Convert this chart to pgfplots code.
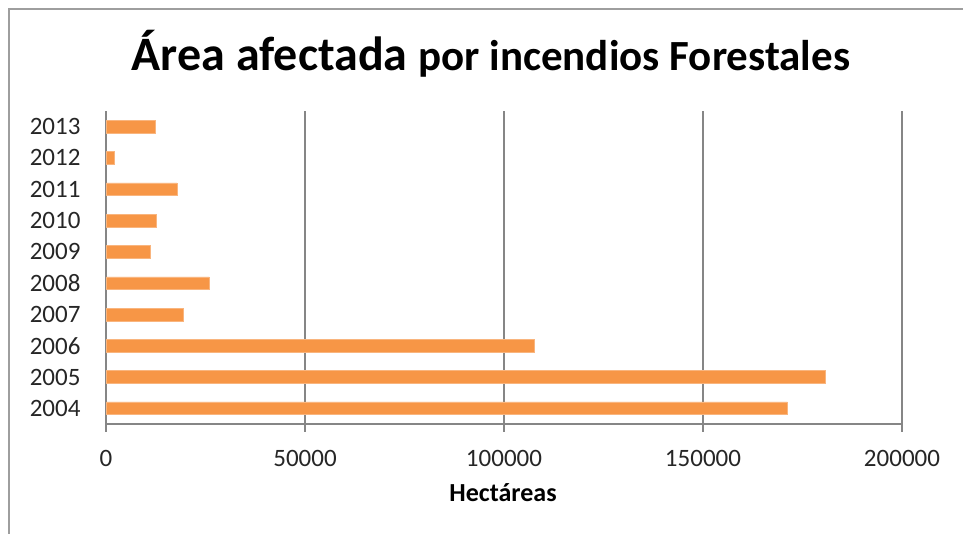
\documentclass[border=0pt]{standalone}
\usepackage{pgfplots}
\pgfplotsset{compat=1.18}
\usepackage{fontspec}
\setmainfont{Carlito}
\definecolor{barorange}{HTML}{F79646}
\definecolor{gridgray}{HTML}{868686}
\begin{document}
\begin{tikzpicture}
\useasboundingbox (0,0) rectangle (963bp,534bp);
\draw[gridgray!80, line width=1.5bp] (9bp,-5bp) -- (9bp,525bp) -- (975bp,525bp);
\node[anchor=base, font=\bfseries] at (491bp,463bp)
  {\fontsize{48bp}{53bp}\selectfont Área afectada \fontsize{43bp}{48bp}\selectfont por incendios Forestales};
\node[anchor=base, font=\bfseries] at (503bp,33bp) {\fontsize{26bp}{30bp}\selectfont Hectáreas};
\begin{axis}[
  at={(106bp,110bp)}, anchor=south west,
  scale only axis, width=796bp, height=313bp,
  xbar, bar width=12.7bp,
  xmin=0, xmax=200000, ymin=-0.5, ymax=9.5,
  axis x line*=bottom, axis y line*=left,
  axis line style={gridgray, line width=1.2bp},
  ytick={0,...,9},
  yticklabels={2004,2005,2006,2007,2008,2009,2010,2011,2012,2013},
  y tick style={draw=none},
  xtick={0,50000,100000,150000,200000},
  xticklabels={0,50000,100000,150000,200000},
  scaled x ticks=false,
  x tick style={gridgray, line width=1.2bp},
  tick align=outside, major tick length=8bp,
  tick label style={font=\fontsize{25bp}{28bp}\selectfont, text=black!85},
  xticklabel style={yshift=-15bp},
  yticklabel style={xshift=-14bp},
  xmajorgrids, grid style={gridgray, line width=1.2bp},
]
\addplot[fill=barorange, draw=barorange!70!white, line width=0.5bp] coordinates {
  (171200,0) (180600,1) (107700,2) (19500,3) (25900,4)
  (11100,5) (12700,6) (17800,7) (2100,8) (12400,9)
};
\end{axis}
\end{tikzpicture}
\end{document}
